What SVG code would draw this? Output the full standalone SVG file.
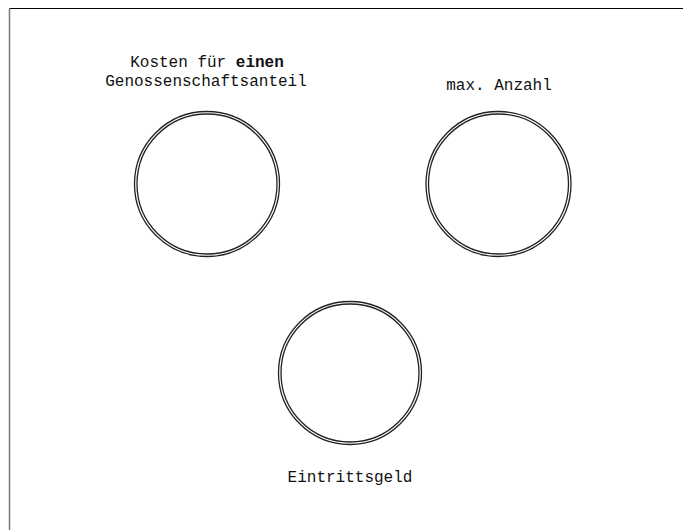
<svg xmlns="http://www.w3.org/2000/svg" width="683" height="530" viewBox="0 0 683 530">
<style>
.ring{fill:none;stroke:#222;stroke-width:1.3}
.lbl{font-family:"Liberation Mono","Courier New",monospace;font-size:16px;fill:#111;text-anchor:middle}
</style>
<rect width="683" height="530" fill="#fff"/>
<g id="frame">
<line x1="9.5" y1="8.5" x2="683" y2="8.5" stroke="#000" stroke-width="1"/>
<line x1="9.5" y1="8.5" x2="9.5" y2="530" stroke="#777" stroke-width="1.5"/>
</g>
<g id="connectors"></g>
<g id="kosten">
<circle class="ring" cx="207" cy="184" r="72.5"/>
<circle class="ring" cx="207" cy="184" r="70"/>
<text class="lbl" x="207" y="67">Kosten für <tspan font-weight="bold">einen</tspan></text>
<text class="lbl" x="206" y="86">Genossenschaftsanteil</text>
</g>
<g id="anzahl">
<circle class="ring" cx="498.5" cy="184" r="72.5"/>
<circle class="ring" cx="498.5" cy="184" r="70"/>
<text class="lbl" x="499" y="90">max. Anzahl</text>
</g>
<g id="eintritt">
<circle class="ring" cx="350" cy="373" r="71.5"/>
<circle class="ring" cx="350" cy="373" r="69"/>
<text class="lbl" x="350" y="482">Eintrittsgeld</text>
</g>
</svg>
